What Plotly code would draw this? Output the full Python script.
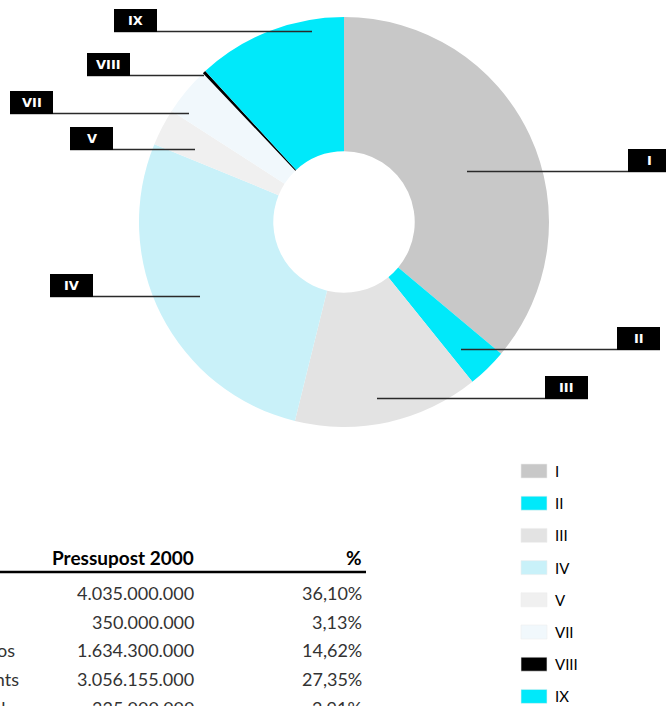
import plotly.graph_objects as go

# ---------------- data ----------------
chapters = ["I", "II", "III", "IV", "V", "VII", "VIII", "IX"]
shares = [36.10, 3.13, 14.62, 27.35, 2.91, 3.81, 0.25, 11.83]
colors = ["#c8c8c8", "#00e9fa", "#e3e3e3", "#c9f1f9", "#f0f0f0", "#f1f8fc", "#000000", "#00e9fa"]

table_header = ["Pressupost 2000", "%"]
table_labels = ["Remuneracions del personal", "Béns corrents i serveis", "Interessos",
                "Transferències corrents", "Inversions reals"]
table_amounts = ["4.035.000.000", "350.000.000", "1.634.300.000", "3.056.155.000", "325.000.000"]
table_pcts = ["36,10%", "3,13%", "14,62%", "27,35%", "2,91%"]

# ---------------- layout helpers (pixels -> paper) ----------------
W, H = 666, 706
def px(x):
    return x / W
def py(y):
    return 1 - y / H

CX, CY, R = 344, 222, 205

fig = go.Figure()
fig.add_trace(go.Pie(
    labels=chapters, values=shares, sort=False, direction="clockwise", rotation=0,
    hole=0.345, marker=dict(colors=colors, line=dict(width=0)),
    textinfo="none", hoverinfo="label+percent", showlegend=False,
    domain=dict(x=[px(CX - R), px(CX + R)], y=[py(CY + R), py(CY - R)]),
))

shapes = []
annotations = []

# callout labels: (box left x, box top y, line start x, line end x)
callouts = {
    "I":    (628, 149, 467, 666),
    "II":   (617, 327, 461, 660),
    "III":  (545, 376, 377, 588),
    "IV":   (50, 274, 50, 200),
    "V":    (70, 127, 70, 195),
    "VII":  (10, 91, 10, 189),
    "VIII": (87, 53, 87, 204),
    "IX":   (114, 9, 114, 312),
}
BW, BH = 43, 23
for ch in chapters:
    bx, by, lx0, lx1 = callouts[ch]
    ly = by + BH - 0.5
    shapes.append(dict(type="line", xref="paper", yref="paper",
                       x0=px(lx0), x1=px(lx1), y0=py(ly), y1=py(ly),
                       line=dict(color="#2a2a2a", width=1.3)))
    shapes.append(dict(type="rect", xref="paper", yref="paper",
                       x0=px(bx), x1=px(bx + BW), y0=py(by + BH), y1=py(by),
                       fillcolor="#000000", line=dict(width=0)))
    annotations.append(dict(xref="paper", yref="paper", x=px(bx + BW / 2), y=py(by + BH / 2),
                            text="<b>" + ch + "</b>", showarrow=False,
                            xanchor="center", yanchor="middle",
                            font=dict(family="DejaVu Sans", size=13, color="#ffffff")))

# manual legend
LEG_Y0, LEG_DY = 471, 32.2
for i, ch in enumerate(chapters):
    yc = LEG_Y0 + i * LEG_DY
    shapes.append(dict(type="rect", xref="paper", yref="paper",
                       x0=px(521), x1=px(547), y0=py(yc + 7), y1=py(yc - 7),
                       fillcolor=colors[i], line=dict(color="#eeeeee", width=0.6)))
    annotations.append(dict(xref="paper", yref="paper", x=px(553), y=py(yc),
                            text=ch, showarrow=False, xanchor="left", yanchor="middle",
                            font=dict(family="Lato, Open Sans", size=15, color="#000000")))

# table
HEAD_Y = 557
ROW_Y0, ROW_DY = 593, 28.7
AMT_X, PCT_X = 196, 364
annotations.append(dict(xref="paper", yref="paper", x=px(AMT_X), y=py(HEAD_Y),
                        text="<b>" + table_header[0] + "</b>", showarrow=False,
                        xanchor="right", yanchor="middle",
                        font=dict(family="Lato, Open Sans", size=19, color="#000000")))
annotations.append(dict(xref="paper", yref="paper", x=px(PCT_X), y=py(HEAD_Y),
                        text="<b>" + table_header[1] + "</b>", showarrow=False,
                        xanchor="right", yanchor="middle",
                        font=dict(family="Lato, Open Sans", size=19, color="#000000")))
shapes.append(dict(type="line", xref="paper", yref="paper",
                   x0=0, x1=px(366), y0=py(572), y1=py(572),
                   line=dict(color="#000000", width=2.5)))
label_ends = [-60, -40, 17, 21, 15]
for i in range(len(table_amounts)):
    yc = ROW_Y0 + i * ROW_DY
    annotations.append(dict(xref="paper", yref="paper", x=px(label_ends[i]), y=py(yc),
                            text=table_labels[i], showarrow=False, xanchor="right", yanchor="middle",
                            font=dict(family="Lato, Open Sans", size=18, color="#333333")))
    annotations.append(dict(xref="paper", yref="paper", x=px(AMT_X), y=py(yc),
                            text=table_amounts[i], showarrow=False, xanchor="right", yanchor="middle",
                            font=dict(family="Lato, Open Sans", size=18, color="#333333")))
    annotations.append(dict(xref="paper", yref="paper", x=px(PCT_X), y=py(yc),
                            text=table_pcts[i], showarrow=False, xanchor="right", yanchor="middle",
                            font=dict(family="Lato, Open Sans", size=18, color="#333333")))

fig.update_layout(
    width=W, height=H, margin=dict(l=0, r=0, t=0, b=0),
    paper_bgcolor="#ffffff", plot_bgcolor="#ffffff",
    shapes=shapes, annotations=annotations, showlegend=False,
)

fig.write_html("out.html", config={"displayModeBar": False},
               post_script="document.body.style.margin='0';document.body.style.overflow='hidden';")
